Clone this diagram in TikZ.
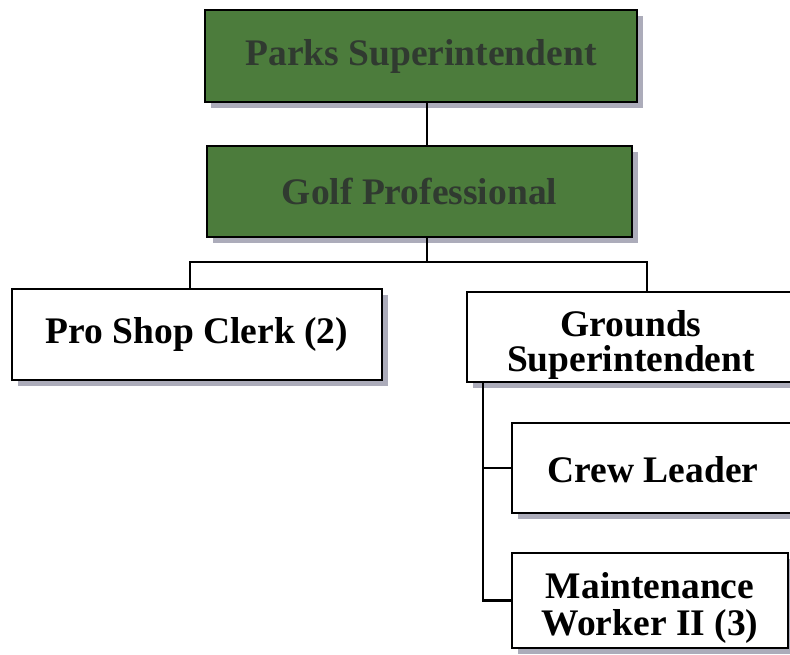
\documentclass[tikz,border=0pt]{standalone}
\usepackage{fontspec}
\setmainfont{Liberation Serif}
\usetikzlibrary{shadows}
\definecolor{boxgreen}{RGB}{76,124,60}
\definecolor{greentext}{RGB}{48,58,48}
\definecolor{shadowgray}{RGB}{172,172,186}
\tikzset{
  orgbox/.style={draw=black, line width=2.7pt, rectangle, inner sep=0pt, align=center,
    font=\bfseries\fontsize{37.5}{34}\selectfont,
    drop shadow={shadow xshift=6pt, shadow yshift=-6pt, fill=shadowgray, opacity=1}},
  greenbox/.style={orgbox, fill=boxgreen, text=greentext},
  whitebox/.style={orgbox, fill=white, text=black},
  link/.style={draw=black, line width=2.3pt}
}
\begin{document}
\begin{tikzpicture}[x=1pt,y=-1pt]
\useasboundingbox (0,0) rectangle (790,654);
\clip (0,0) rectangle (790,654);
\fill[white] (0,0) rectangle (790,654);
% boxes
\node[greenbox, minimum width=432pt, minimum height=92pt] (ps) at (421,56) {Parks Superintendent};
\node[greenbox, minimum width=425pt, minimum height=91pt] (gp) at (419.5,191.5) {Golf Professional};
\node[whitebox, minimum width=370pt, minimum height=91pt] (psc) at (197,334.5) {Pro Shop Clerk (2)};
\node[whitebox, minimum width=328pt, minimum height=90pt] (gs) at (631,337) {\rule{0pt}{42pt}Grounds\\[1pt]Superintendent};
\node[whitebox, minimum width=282pt, minimum height=90pt] (cl) at (653,468) {\rule{0pt}{30pt}Crew Leader};
\node[whitebox, minimum width=276pt, minimum height=95pt] (mw) at (650,600.5) {\rule{0pt}{40pt}Maintenance\\[3pt]Worker II (3)};
% helper coordinates
\coordinate (trunk) at (427,0);
\coordinate (busy) at (0,262);
\coordinate (leftdrop) at (190,0);
\coordinate (rightdrop) at (647,0);
\coordinate (spine) at (483,0);
% connectors
\draw[link] (ps.south -| trunk) -- (gp.north -| trunk);
\draw[link] (gp.south -| trunk) -- (busy -| trunk);
\draw[link] (psc.north -| leftdrop) -- (busy -| leftdrop) -- (busy -| rightdrop) -- (gs.north -| rightdrop);
\draw[link] (gs.south -| spine) -- (mw.west -| spine) -- (mw.west);
\draw[link] (cl.west -| spine) -- (cl.west);
\end{tikzpicture}
\end{document}
